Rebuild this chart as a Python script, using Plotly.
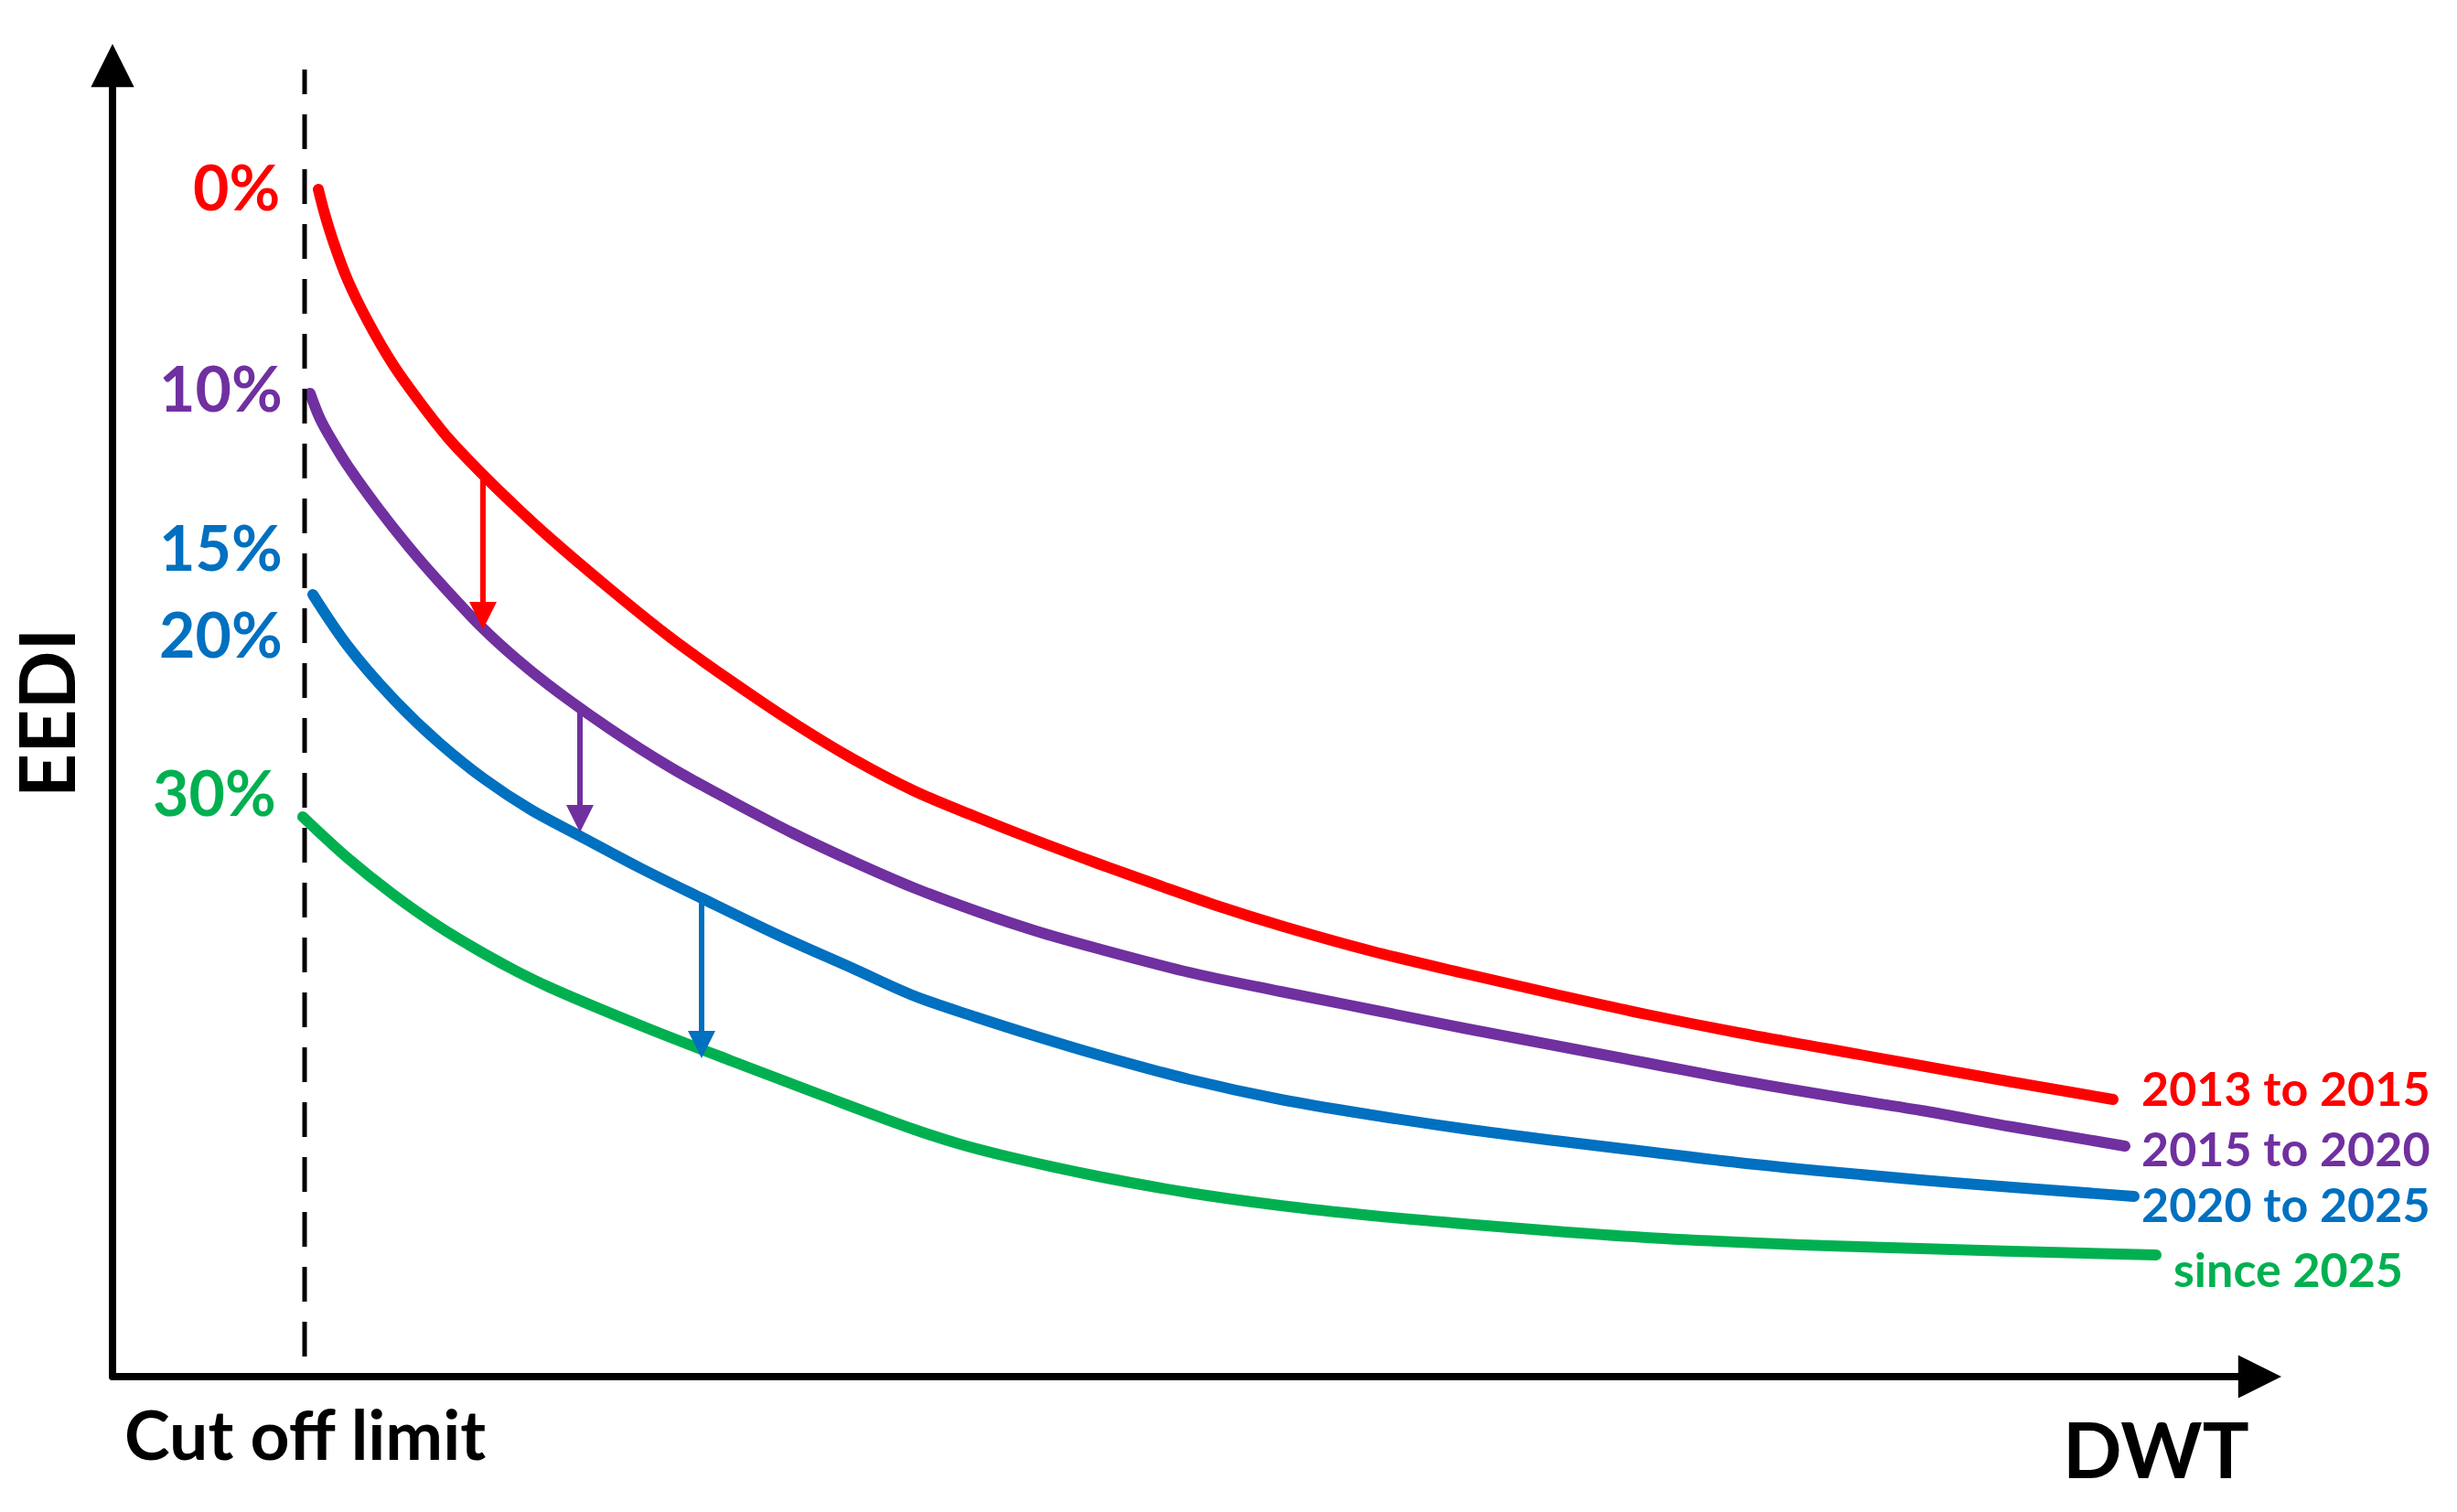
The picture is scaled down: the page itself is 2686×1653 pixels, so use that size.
import plotly.graph_objects as go

# ---- data (schematic units: DWT, EEDI) ----
red_x = [22.5, 23.2, 24.2, 25.7, 27.9, 30.7, 33.7, 36.7, 40.5, 44.0, 47.7, 54.4, 61.0, 67.7, 74.4, 81.0,
         87.7, 94.4, 101.0, 107.7, 114.4, 121.0, 127.7, 137.7, 147.7, 157.7, 167.7, 177.7, 187.7, 197.7, 207.7, 218.7]
red_y = [129.8, 127.1, 123.9, 119.9, 115.4, 110.6, 106.4, 102.6, 98.6, 95.2, 91.8, 86.1, 80.8, 76.0, 71.5, 67.5,
         64.0, 61.2, 58.6, 56.1, 53.7, 51.4, 49.3, 46.5, 44.1, 41.8, 39.6, 37.6, 35.8, 34.0, 32.2, 30.3]

purple_x = [21.6, 22.7, 24.2, 25.7, 29.0, 32.4, 35.7, 40.5, 44.0, 47.7, 54.4, 61.0, 67.7, 74.4, 81.0, 87.7,
            94.4, 101.0, 107.7, 117.7, 127.7, 137.7, 147.7, 157.7, 167.7, 177.7, 187.7, 197.7, 207.7, 220.0]
purple_y = [107.5, 104.7, 102.0, 99.6, 95.0, 90.7, 86.9, 81.8, 78.6, 75.6, 70.8, 66.6, 62.9, 59.4, 56.3, 53.4,
            50.9, 48.7, 46.8, 44.2, 42.1, 40.1, 38.1, 36.2, 34.3, 32.4, 30.7, 29.1, 27.3, 25.2]

blue_x = [21.9, 25.7, 30.7, 35.7, 40.7, 45.7, 51.1, 57.7, 64.4, 72.7, 81.0, 87.7, 94.4, 101.0, 107.7, 117.7,
          127.7, 137.7, 147.7, 157.7, 167.7, 177.7, 187.7, 197.7, 207.7, 221.0]
blue_y = [85.5, 79.9, 74.1, 69.3, 65.3, 62.0, 59.1, 55.6, 52.3, 48.3, 44.6, 41.6, 39.3, 37.2, 35.2, 32.5,
          30.3, 28.6, 27.1, 25.8, 24.6, 23.4, 22.4, 21.5, 20.7, 19.7]

green_x = [20.8, 25.7, 30.7, 35.7, 40.7, 44.2, 47.7, 57.7, 67.7, 77.7, 87.7, 92.7, 97.7, 107.7, 117.7, 127.7,
           137.7, 147.7, 157.7, 167.7, 177.7, 187.7, 197.7, 207.7, 223.4]
green_y = [61.2, 56.7, 52.7, 49.2, 46.2, 44.3, 42.6, 38.4, 34.5, 30.7, 27.0, 25.4, 24.1, 21.9, 20.1, 18.7,
           17.6, 16.7, 15.9, 15.2, 14.7, 14.3, 14.0, 13.7, 13.3]

period_labels = ["2013 to 2015", "2015 to 2020", "2020 to 2025", "since 2025"]
period_label_x = [221.6, 221.6, 221.6, 225.1]
period_label_y = [31.6, 25.0, 18.9, 11.8]

pct_labels = ["0%", "10%", "15%", "20%", "30%"]
pct_label_x = [18.5, 18.8, 18.8, 18.8, 18.1]
pct_label_y = [130.2, 108.2, 90.8, 81.3, 64.0]
pct_colors = ["#FF0000", "#7030A0", "#0070C0", "#0070C0", "#00B050"]

# reduction arrows: x, start y, end y
arrow_x = [40.5, 51.1, 64.4]
arrow_y0 = [98.6, 73.0, 52.0]
arrow_y1 = [81.7, 59.5, 34.8]
arrow_colors = ["#FF0000", "#7030A0", "#0070C0"]

cutoff_x = 21.0
cutoff_y = [2.2, 142.9]
x_axis_max = 237.1
y_axis_max = 145.7
x_range = [-12.3, 256.3]
y_range = [-14.8, 150.5]

FONT = "Lato"

fig = go.Figure()

series = [
    (red_x, red_y, "#FF0000"),
    (purple_x, purple_y, "#7030A0"),
    (blue_x, blue_y, "#0070C0"),
    (green_x, green_y, "#00B050"),
]
for xs, ys, c in series:
    fig.add_trace(go.Scatter(x=xs, y=ys, mode="lines",
                             line=dict(color=c, width=12, shape="spline", smoothing=1.0),
                             hoverinfo="skip", showlegend=False))

# cut off dashed line
fig.add_trace(go.Scatter(x=[cutoff_x, cutoff_x], y=cutoff_y, mode="lines",
                         line=dict(color="black", width=5, dash="38px,22px"),
                         hoverinfo="skip", showlegend=False))

annotations = []
# axes arrows
annotations.append(dict(x=x_axis_max, y=0, ax=-0.4, ay=0, xref="x", yref="y",
                        axref="x", ayref="y", text="", showarrow=True,
                        arrowhead=2, arrowwidth=8, arrowsize=1.18, arrowcolor="black", standoff=0))
annotations.append(dict(x=0, y=y_axis_max, ax=0, ay=-0.4, xref="x", yref="y",
                        axref="x", ayref="y", text="", showarrow=True,
                        arrowhead=2, arrowwidth=8, arrowsize=1.18, arrowcolor="black", standoff=0))

for xa, y0, y1, c in zip(arrow_x, arrow_y0, arrow_y1, arrow_colors):
    annotations.append(dict(x=xa, y=y1, ax=xa, ay=y0, xref="x", yref="y",
                            axref="x", ayref="y", text="", showarrow=True,
                            arrowhead=2, arrowwidth=6, arrowsize=1.0, arrowcolor=c, standoff=0))

for t, xx, yy, c in zip(pct_labels, pct_label_x, pct_label_y, pct_colors):
    annotations.append(dict(x=xx, y=yy, xref="x", yref="y", text=t, showarrow=False,
                            xanchor="right", yanchor="middle",
                            font=dict(family=FONT, size=68, color=c, weight=700)))

for t, xx, yy, c in zip(period_labels, period_label_x, period_label_y,
                        ["#FF0000", "#7030A0", "#0070C0", "#00B050"]):
    annotations.append(dict(x=xx, y=yy, xref="x", yref="y", text=t, showarrow=False,
                            xanchor="left", yanchor="middle",
                            font=dict(family=FONT, size=52, color=c, weight=700)))

annotations.append(dict(x=223.4, y=-7.8, xref="x", yref="y", text="DWT", showarrow=False,
                        xanchor="center", yanchor="middle",
                        font=dict(family=FONT, size=85, color="black", weight=700)))
annotations.append(dict(x=cutoff_x, y=-6.2, xref="x", yref="y", text="Cut off limit", showarrow=False,
                        xanchor="center", yanchor="middle",
                        font=dict(family=FONT, size=75, color="black", weight=700)))
annotations.append(dict(x=-7.4, y=72.5, xref="x", yref="y", text="EEDI", showarrow=False,
                        xanchor="center", yanchor="middle", textangle=-90,
                        font=dict(family=FONT, size=84, color="black", weight=700)))

fig.update_layout(
    width=2686, height=1653,
    margin=dict(l=0, r=0, t=0, b=0),
    paper_bgcolor="white", plot_bgcolor="white",
    xaxis=dict(range=x_range, visible=False, fixedrange=True),
    yaxis=dict(range=y_range, visible=False, fixedrange=True),
    annotations=annotations,
    showlegend=False,
)

post = (
    "document.body.style.margin='0';document.body.style.overflow='hidden';"
    "document.querySelectorAll('.scatterlayer .js-line').forEach(function(p,i,a){"
    "if(i<4){p.style.strokeLinecap='round';}});"
)
fig.write_html("out.html", config={"displayModeBar": False}, post_script=post)
